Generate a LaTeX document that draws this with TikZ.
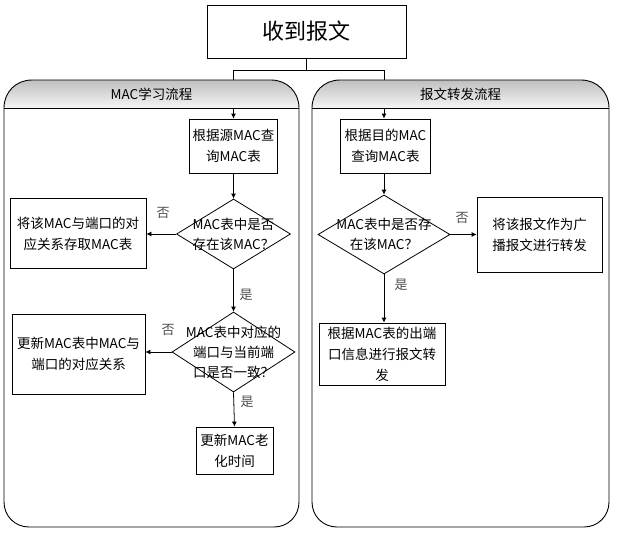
\documentclass[tikz,border=0pt]{standalone}
\usepackage{fontspec}
\setmainfont{Noto Sans CJK SC}
\usetikzlibrary{arrows.meta,shapes.geometric}
\begin{document}
\begin{tikzpicture}[x=1pt,y=-1pt,
  box/.style={draw,line width=0.8pt,align=center,inner sep=0pt,fill=white,
    font=\fontsize{13.5}{21}\selectfont},
  dia/.style={draw,diamond,line width=0.8pt,inner sep=0pt,fill=white},
  dtext/.style={align=center,inner sep=0pt,font=\fontsize{13.5}{20}\selectfont},
  lab/.style={inner sep=0pt,font=\fontsize{13}{15}\selectfont,text=black!70},
  head/.style={inner sep=0pt,font=\fontsize{13.5}{16}\selectfont},
  conn/.style={line width=0.8pt},
  arr/.style={line width=0.8pt,-{Latex[length=5pt,width=5pt]}},
  panel/.style={line width=0.9pt}]
\useasboundingbox (0,0) rectangle (617,533);

% top box and its connectors
\node[box,minimum width=199pt,minimum height=53pt,font=\fontsize{22}{26}\selectfont] (top) at (306.5,31.5) {收到报文};
\coordinate (j0) at (306.5,70);
\coordinate (jl) at (233.5,70);
\coordinate (jr) at (384,70);
\coordinate (pl) at (233.5,81);
\coordinate (pr) at (384,81);
\draw[conn] (top.south) -- (j0);
\draw[conn] (jl) -- (jr);
\draw[conn] (jl) -- (pl);
\draw[conn] (jr) -- (pr);

% panels
\foreach \a/\b in {4/299,312/609}{
  \shade[top color=black!25,bottom color=black!4]
    (\a,108) .. controls (\a,92) and (\a+12,80) .. (\a+28,80) -- (\b-28,80)
    .. controls (\b-12,80) and (\b,92) .. (\b,108) -- cycle;
  \draw[panel] (\a,108) .. controls (\a,92) and (\a+12,80) .. (\a+28,80) -- (\b-28,80)
    .. controls (\b-12,80) and (\b,92) .. (\b,108)
    -- (\b,502) .. controls (\b,516) and (\b-11,527) .. (\b-25,527)
    -- (\a+25,527) .. controls (\a+11,527) and (\a,516) .. (\a,502) -- cycle;
  \draw[panel] (\a,108) -- (\b,108);
}
\node[head] (hl) at (151.5,94) {MAC学习流程};
\node[head] (hr) at (460.5,94) {报文转发流程};
\coordinate (hlb) at (233.5,108);
\coordinate (hrb) at (384,108);

% left flow
\node[box,minimum width=88pt,minimum height=54pt] (b1) at (233.5,146) {根据源MAC查\\询MAC表};
\node[dia,minimum width=114pt,minimum height=70pt] (d1) at (233.5,234) {};
\node[dtext] (d1t) at (233.5,234) {MAC表中是否\\存在该MAC？};
\node[box,minimum width=136pt,minimum height=70pt] (l1) at (78,233.5) {将该MAC与端口的对\\应关系存取MAC表};
\node[dia,minimum width=123pt,minimum height=80pt] (d2) at (233.5,352) {};
\node[dtext] (d2t) at (233.5,352) {MAC表中对应的\\端口与当前端\\口是否一致？};
\node[box,minimum width=133pt,minimum height=80pt] (l2) at (78.5,354) {更新MAC表中MAC与\\端口的对应关系};
\node[box,minimum width=77pt,minimum height=47pt] (b3) at (234.5,450.5) {更新MAC老\\化时间};

\draw[arr] (hlb) -- (b1.north);
\draw[arr] (b1.south) -- (d1.north);
\draw[arr] (d1.west) -- (d1.west -| l1.east);
\draw[arr] (d1.south) -- (d2.north);
\draw[arr] (d2.west) -- (d2.west -| l2.east);
\draw[arr] (d2.south) -- (b3.north);
\node[lab] (n1) at (163,213) {否};
\node[lab] (y1) at (246,295) {是};
\node[lab] (n2) at (168,330) {否};
\node[lab] (y2) at (247,402) {是};

% right flow
\node[box,minimum width=90pt,minimum height=54pt] (b2) at (385.5,146) {根据目的MAC\\查询MAC表};
\node[dia,minimum width=132pt,minimum height=79pt] (d3) at (384,234.5) {};
\node[dtext] (d3t) at (384,234.5) {MAC表中是否存\\在该MAC？};
\node[box,minimum width=125pt,minimum height=75pt] (r1) at (539.5,234.5) {将该报文作为广\\播报文进行转发};
\node[box,minimum width=126pt,minimum height=62pt] (r2) at (382,354) {根据MAC表的出端\\口信息进行报文转\\发};

\draw[arr] (hrb) -- (hrb |- b2.north);
\draw[arr] (d3.north |- b2.south) -- (d3.north);
\draw[arr] (d3.east) -- (d3.east -| r1.west);
\draw[arr] (d3.south) -- (d3.south |- r2.north);
\node[lab] (n3) at (462,218) {否};
\node[lab] (y3) at (401,285) {是};
\end{tikzpicture}
\end{document}
